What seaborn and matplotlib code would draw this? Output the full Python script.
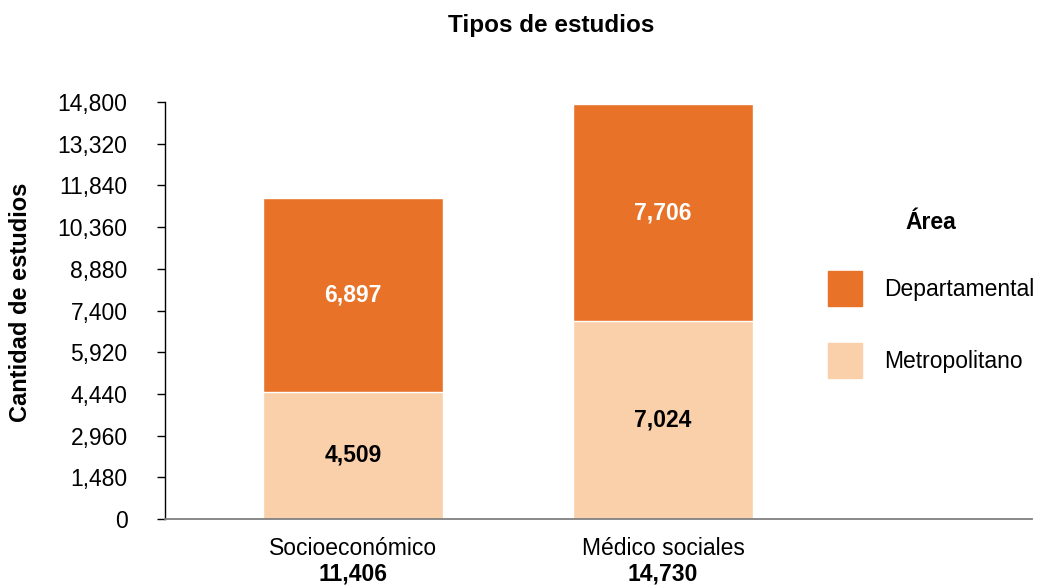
import pandas as pd
import seaborn as sns
import matplotlib.pyplot as plt
from matplotlib.patches import Patch

# datos
categorias = ['Socioeconómico', 'Médico sociales']
metropolitano = [4509, 7024]
departamental = [6897, 7706]
ticks_y = [0, 1480, 2960, 4440, 5920, 7400, 8880, 10360, 11840, 13320, 14800]

col_dep = '#E87328'
col_met = '#FAD0AB'

df = pd.DataFrame({'Tipo': categorias,
                   'Metropolitano': metropolitano,
                   'Departamental': departamental})
df['Total'] = df['Metropolitano'] + df['Departamental']

sns.set_style('white')
plt.rcParams['font.family'] = ['Liberation Sans', 'DejaVu Sans']
plt.rcParams['text.color'] = 'black'
plt.rcParams['axes.labelcolor'] = 'black'
plt.rcParams['xtick.color'] = 'black'
plt.rcParams['ytick.color'] = 'black'
fs = 16.5

fig = plt.figure(figsize=(10.49, 5.85), dpi=100)
ax = fig.add_axes([0.1573, 0.1128, 0.8265, 0.7128])

# barras apiladas: total detras, metropolitano delante
sns.barplot(data=df, x='Tipo', y='Total', color=col_dep, width=0.58,
            saturation=1, ax=ax)
sns.barplot(data=df, x='Tipo', y='Metropolitano', color=col_met, width=0.58,
            saturation=1, ax=ax)

ax.set_xlim(-0.606, 2.19)
ax.set_ylim(0, 14800)
ax.set_yticks(ticks_y)
ax.set_yticklabels([f'{t:,}' for t in ticks_y], fontsize=fs)
ax.tick_params(axis='y', length=6, width=1, pad=21, color='black', left=True)
ax.tick_params(axis='x', length=0, pad=13, labelsize=fs)
ax.set_xticks(range(len(categorias)))
ax.set_xticklabels(categorias)

for s in ['top', 'right']:
    ax.spines[s].set_visible(False)
ax.spines['left'].set_color('black')
ax.spines['left'].set_linewidth(1)
ax.spines['bottom'].set_color('#808080')
ax.spines['bottom'].set_linewidth(1.3)

# etiquetas dentro de las barras
for i, row in df.iterrows():
    ax.text(i, row['Metropolitano'] / 2, f"{row['Metropolitano']:,}",
            ha='center', va='center', fontsize=fs, fontweight='bold', color='black')
    ax.text(i, row['Metropolitano'] + row['Departamental'] / 2,
            f"{row['Departamental']:,}", ha='center', va='center',
            fontsize=fs, fontweight='bold', color='white')
    # total debajo del nombre de la categoria
    ax.annotate(f"{row['Total']:,}", xy=(i, 0), xycoords=('data', 'axes fraction'),
                xytext=(0, -31), textcoords='offset points', ha='center', va='top',
                fontsize=fs, fontweight='bold')

ax.set_xlabel('')
ax.set_ylabel('Cantidad de estudios', fontsize=17, fontweight='bold')
ax.yaxis.set_label_coords(-0.153, 0.52)

fig.text(0.525, 0.957, 'Tipos de estudios', ha='center', va='center',
         fontsize=17.5, fontweight='bold')

handles = [Patch(color=col_dep), Patch(color=col_met)]
leg = ax.legend(handles, ['Departamental', 'Metropolitano'], title='Área',
                loc='upper left', bbox_to_anchor=(0.754, 0.76), borderaxespad=0,
                frameon=False, fontsize=fs,
                title_fontproperties={'weight': 'bold', 'size': fs},
                handlelength=1.5, handleheight=2.0, labelspacing=1.6,
                handletextpad=0.95)

plt.savefig('out.png', dpi=100)
